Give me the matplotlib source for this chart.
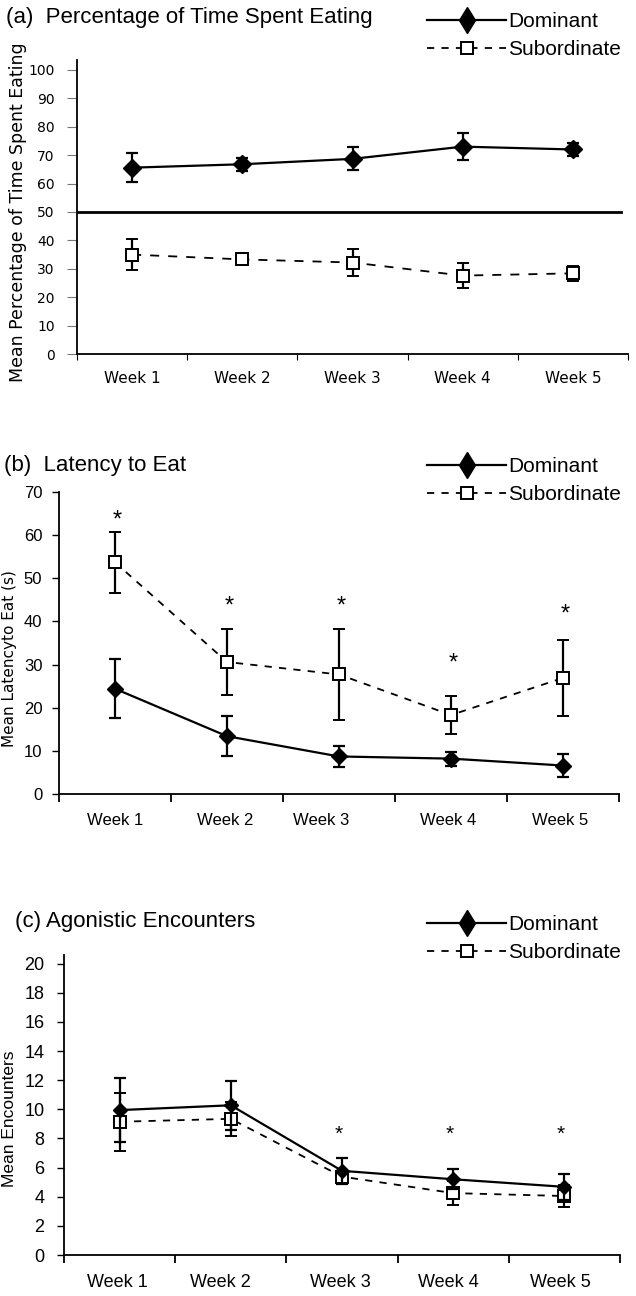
import matplotlib
matplotlib.use('Agg')
import matplotlib.pyplot as plt
from matplotlib.lines import Line2D
from matplotlib.transforms import ScaledTranslation

weeks = ['Week 1', 'Week 2', 'Week 3', 'Week 4', 'Week 5']
x = [1, 2, 3, 4, 5]

# (a) percentage of time spent eating
eat_dom = [65.6, 66.8, 68.7, 73.0, 72.0]
eat_dom_err = [5.2, 2.3, 4.1, 4.7, 2.3]
eat_sub = [35.0, 33.3, 32.2, 27.6, 28.4]
eat_sub_err = [5.5, 2.1, 4.7, 4.5, 2.7]

# (b) latency to eat
lat_dom = [24.4, 13.4, 8.7, 8.2, 6.6]
lat_dom_err = [6.8, 4.6, 2.4, 1.6, 2.7]
lat_sub = [53.7, 30.6, 27.7, 18.3, 26.9]
lat_sub_err = [7.0, 7.7, 10.5, 4.5, 8.8]
lat_star = [63.5, 43.5, 43.5, 30.3, 41.5]

# (c) agonistic encounters
enc_dom = [9.95, 10.28, 5.78, 5.2, 4.68]
enc_dom_err = [2.2, 1.7, 0.9, 0.68, 0.9]
enc_sub = [9.15, 9.35, 5.38, 4.25, 4.05]
enc_sub_err = [2.0, 1.15, 0.35, 0.85, 0.75]
enc_star = [None, None, 8.3, 8.3, 8.3]

W, H = 636, 1296
fig = plt.figure(figsize=(W / 100, H / 100), dpi=100)

LS = 'Liberation Sans'
DV = 'DejaVu Sans'
DASH = (0, (4, 4))


def box(left, right, top, bottom):
    return [left / W, 1 - bottom / H, (right - left) / W, (bottom - top) / H]


def draw_series(ax, dom, dom_err, sub, sub_err, ms_d=9, ms_s=8, dash=DASH):
    ax.errorbar(x, sub, yerr=sub_err, color='black', lw=1.3, ls=dash,
                marker='s', ms=ms_s, mfc='white', mec='black', mew=1.4,
                ecolor='black', elinewidth=1.6, capsize=4.5, capthick=1.6, zorder=3)
    ax.errorbar(x, dom, yerr=dom_err, color='black', lw=1.6, ls='-',
                marker='D', ms=ms_d * 0.75, mfc='black', mec='black',
                ecolor='black', elinewidth=1.6, capsize=4.5, capthick=1.6, zorder=4)


def style_axes(ax, ymax, yticks, tickfont, tickfs, xfont, xfs, xpad, ypad, shifts=None):
    ax.set_xlim(0.5, 5.5)
    ax.set_ylim(0, ymax)
    ax.set_yticks(yticks)
    for s in ['top', 'right']:
        ax.spines[s].set_visible(False)
    ax.spines['left'].set_linewidth(1.3)
    ax.spines['bottom'].set_linewidth(1.3)
    ax.set_xticks(x)
    ax.set_xticklabels(weeks, fontfamily=xfont, fontsize=xfs)
    ax.tick_params(axis='x', which='major', length=0, pad=xpad)
    ax.set_xticks([0.5, 1.5, 2.5, 3.5, 4.5, 5.5], minor=True)
    ax.tick_params(axis='x', which='minor', length=6, width=1.3, direction='out')
    ax.tick_params(axis='y', length=5, width=1.0, direction='out', pad=ypad)
    for lab in ax.get_yticklabels():
        lab.set_fontfamily(tickfont)
        lab.set_fontsize(tickfs)
    if shifts:
        for lab, dx in zip(ax.get_xticklabels(), shifts):
            lab.set_transform(lab.get_transform() +
                              ScaledTranslation(dx / 100, 0, fig.dpi_scale_trans))


def legend(y_top):
    h_dom = Line2D([], [], color='black', lw=1.6, marker='d', ms=13, mfc='black')
    h_sub = Line2D([], [], color='black', lw=1.3, ls=DASH, marker='s',
                   ms=9, mfc='white', mew=1.4)
    fig.legend([h_dom, h_sub], ['Dominant', 'Subordinate'], loc='upper left',
               bbox_to_anchor=(427 / W, 1 - y_top / H), frameon=False,
               prop={'family': LS, 'size': 15}, handlelength=3.8,
               handletextpad=0.08, labelspacing=0.44, borderpad=0, borderaxespad=0)


# panel (a)
ax1 = fig.add_axes(box(77, 628, 60, 354))
draw_series(ax1, eat_dom, eat_dom_err, eat_sub, eat_sub_err, ms_d=12, ms_s=9,
            dash=(0, (5, 5)))
ax1.axhline(50, color='black', lw=2.0, xmax=0.987, zorder=2)
style_axes(ax1, 103.5, range(0, 101, 10), DV, 10, DV, 11, 12, 9)
ax1.tick_params(axis='x', which='minor', length=4, width=0.8)
ax1.tick_params(axis='y', length=7, width=0.8, colors='#777777', labelcolor='black')
ax1.set_ylabel('Mean Percentage of Time Spent Eating', fontfamily=DV, fontsize=12.5)
ax1.yaxis.set_label_coords(-0.09, 0.483)
fig.text(6 / W, 1 - 17 / H, '(a)  Percentage of Time Spent Eating',
         fontfamily=LS, fontsize=16, va='center', ha='left')
legend(12)

# panel (b)
ax2 = fig.add_axes(box(59, 619, 492, 794))
draw_series(ax2, lat_dom, lat_dom_err, lat_sub, lat_sub_err, ms_d=11, ms_s=9)
style_axes(ax2, 70, range(0, 71, 10), LS, 12, LS, 12, 14, 7,
           shifts=[0, -2, -18, -3, -3])
for xi, yi in zip(x, lat_star):
    ax2.text(xi + 0.02, yi, '*', fontfamily=LS, fontsize=17, ha='center', va='center')
ax2.set_ylabel('Mean Latencyto Eat (s)', fontfamily=DV, fontsize=11)
ax2.yaxis.set_label_coords(-0.075, 0.45)
fig.text(4 / W, 1 - 465 / H, '(b)  Latency to Eat',
         fontfamily=LS, fontsize=16, va='center', ha='left')
legend(457)

# panel (c)
ax3 = fig.add_axes(box(64, 620, 955, 1255))
draw_series(ax3, enc_dom, enc_dom_err, enc_sub, enc_sub_err, ms_d=10, ms_s=9)
style_axes(ax3, 20.6, range(0, 21, 2), LS, 13, LS, 13, 14, 9,
           shifts=[-2, -10, -2, -5, -4])
for xi, yi in zip(x, enc_star):
    if yi is not None:
        ax3.text(xi - 0.03, yi, '*', fontfamily=LS, fontsize=15, ha='center', va='center')
ax3.set_ylabel('Mean Encounters', fontfamily=LS, fontsize=12.5)
ax3.yaxis.set_label_coords(-0.085, 0.453)
fig.text(15 / W, 1 - 922 / H, '(c) Agonistic Encounters',
         fontfamily=LS, fontsize=16, va='center', ha='left')
legend(915)

fig.savefig('out.png', dpi=100, facecolor='white')
